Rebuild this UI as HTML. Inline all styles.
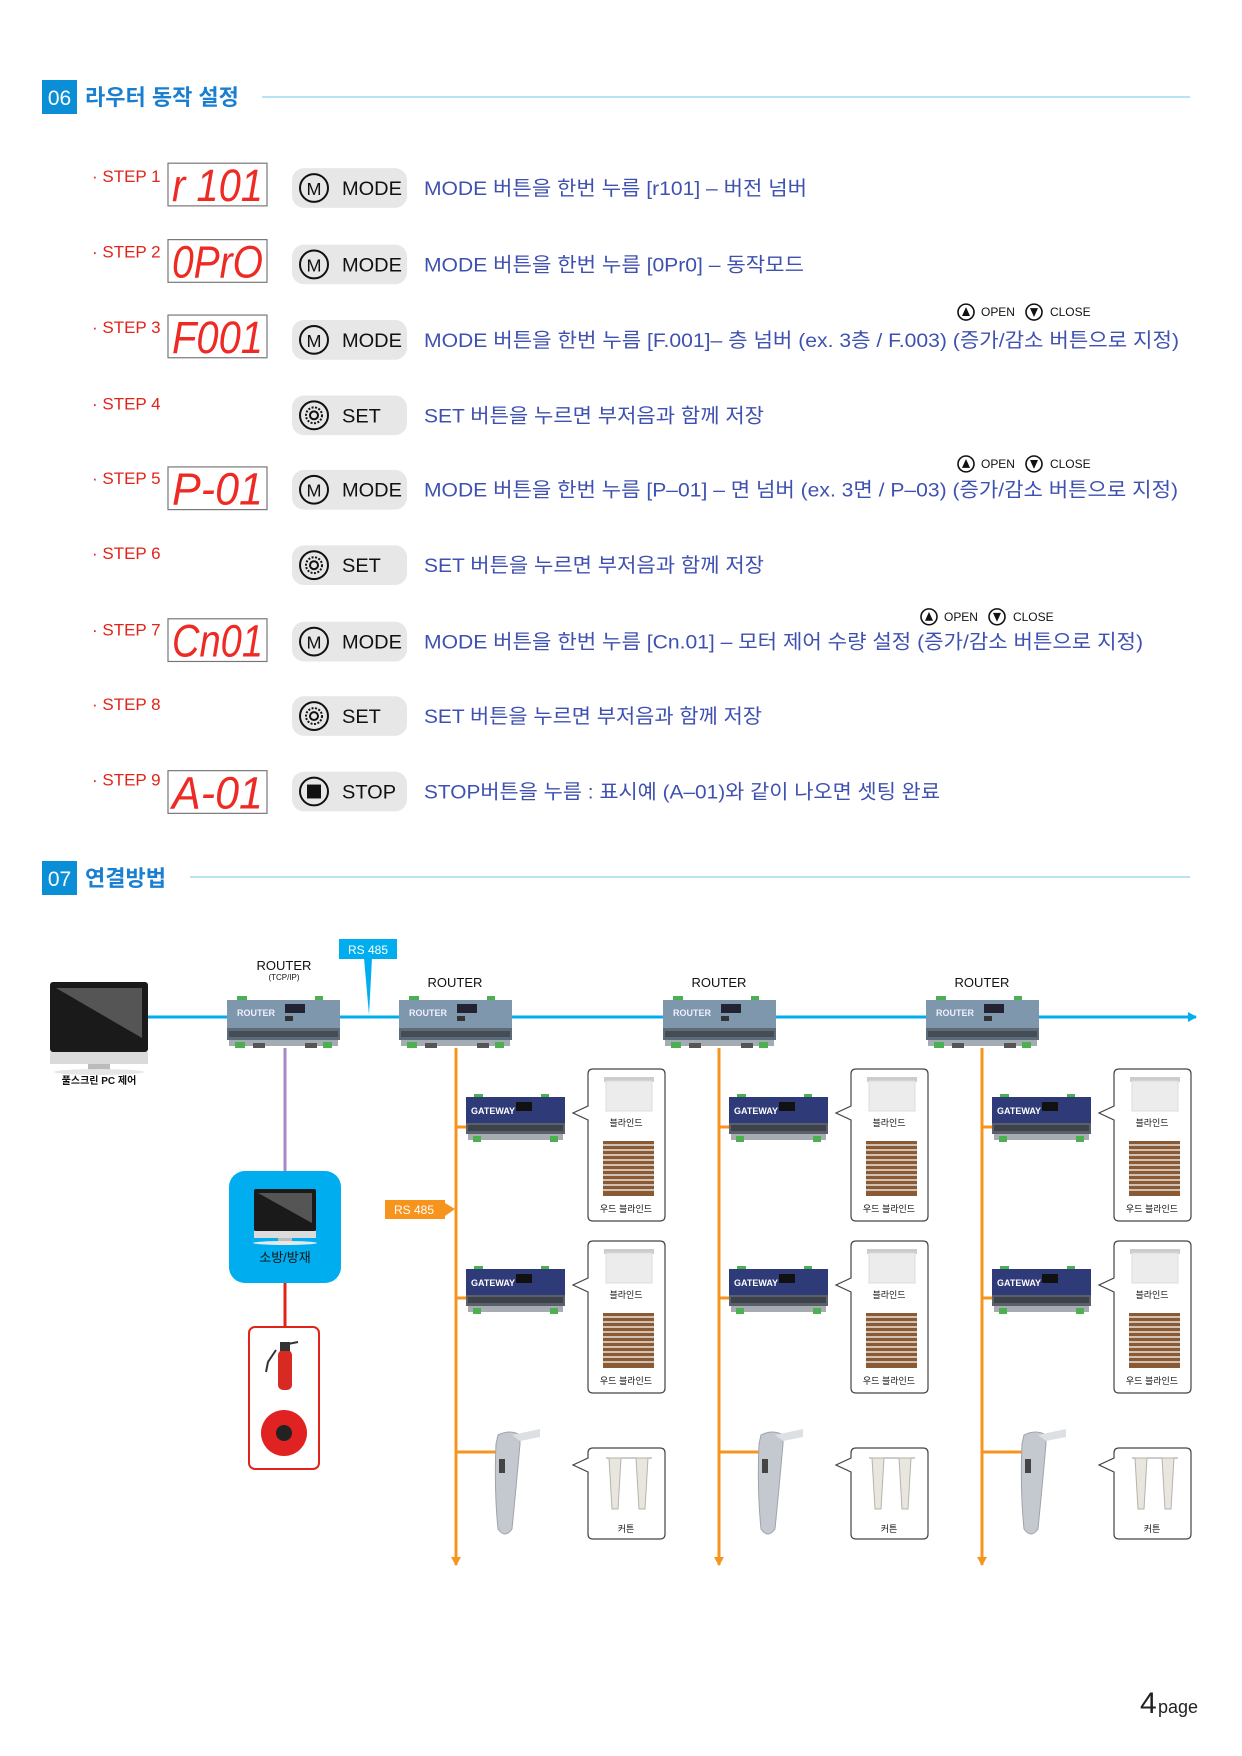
<!DOCTYPE html>
<html><head><meta charset="utf-8">
<style>
html,body{margin:0;padding:0;background:#fff;}
svg{display:block;}
text{font-family:"Liberation Sans","Noto Sans CJK KR",sans-serif;}
</style></head><body>
<svg width="1242" height="1756" viewBox="0 0 1242 1756" xmlns="http://www.w3.org/2000/svg">
<defs>
<marker id="ab" markerWidth="10" markerHeight="10" refX="8" refY="5" orient="auto" markerUnits="userSpaceOnUse"><path d="M0,0 L9,5 L0,10 Z" fill="#00aeef"/></marker>
<marker id="ao" markerWidth="10" markerHeight="10" refX="8" refY="5" orient="auto" markerUnits="userSpaceOnUse"><path d="M0,0 L9,5 L0,10 Z" fill="#f7941d"/></marker>
</defs>

<!-- Section 06 header -->
<rect x="42" y="80" width="35" height="34" fill="#0a8fd6"/>
<text x="59.5" y="105" font-size="21" fill="#fff" text-anchor="middle">06</text>
<text x="85" y="105" font-size="22" fill="#1a7fd0" font-weight="bold">라우터 동작 설정</text>
<line x1="262" y1="97" x2="1190" y2="97" stroke="#9fdaf0" stroke-width="1.5"/>

<g transform="translate(0,1.4) scale(1,0.9926)">
<!-- Steps -->
<g font-size="17" fill="#e2231a">
<text x="92" y="182">· STEP 1</text>
<text x="92" y="258">· STEP 2</text>
<text x="92" y="334">· STEP 3</text>
<text x="92" y="411">· STEP 4</text>
<text x="92" y="486">· STEP 5</text>
<text x="92" y="562">· STEP 6</text>
<text x="92" y="639">· STEP 7</text>
<text x="92" y="714">· STEP 8</text>
<text x="92" y="790">· STEP 9</text>
</g>

<g fill="#fff" stroke="#777" stroke-width="1.2">
<rect x="168" y="163" width="99" height="43"/>
<rect x="168" y="240" width="99" height="43"/>
<rect x="168" y="316" width="99" height="43"/>
<rect x="168" y="469" width="99" height="43"/>
<rect x="168" y="622" width="99" height="43"/>
<rect x="168" y="775" width="99" height="43"/>
</g>
<g font-family="Liberation Mono" font-style="italic" font-size="46" fill="#ee2a24">
<text x="172" y="201" textLength="91" lengthAdjust="spacingAndGlyphs">r 101</text>
<text x="172" y="278" textLength="91" lengthAdjust="spacingAndGlyphs">0PrO</text>
<text x="172" y="354" textLength="91" lengthAdjust="spacingAndGlyphs">F001</text>
<text x="172" y="507" textLength="91" lengthAdjust="spacingAndGlyphs">P-01</text>
<text x="172" y="660" textLength="91" lengthAdjust="spacingAndGlyphs">Cn01</text>
<text x="172" y="813" textLength="91" lengthAdjust="spacingAndGlyphs">A-01</text>
</g>

<g fill="#e7e7e8">
<rect x="292" y="168" width="115" height="40" rx="12"/>
<rect x="292" y="245" width="115" height="40" rx="12"/>
<rect x="292" y="321" width="115" height="40" rx="12"/>
<rect x="292" y="397" width="115" height="40" rx="12"/>
<rect x="292" y="472" width="115" height="40" rx="12"/>
<rect x="292" y="548" width="115" height="40" rx="12"/>
<rect x="292" y="625" width="115" height="40" rx="12"/>
<rect x="292" y="700" width="115" height="40" rx="12"/>
<rect x="292" y="776" width="115" height="40" rx="12"/>
</g>
<g fill="none" stroke="#111" stroke-width="2">
<circle cx="314" cy="188" r="14"/><circle cx="314" cy="265" r="14"/><circle cx="314" cy="341" r="14"/>
<circle cx="314" cy="417" r="14"/><circle cx="314" cy="492" r="14"/><circle cx="314" cy="568" r="14"/>
<circle cx="314" cy="645" r="14"/><circle cx="314" cy="720" r="14"/><circle cx="314" cy="796" r="14"/>
<circle cx="314" cy="417" r="8" stroke-dasharray="2 1.5"/><circle cx="314" cy="568" r="8" stroke-dasharray="2 1.5"/><circle cx="314" cy="720" r="8" stroke-dasharray="2 1.5"/>
<circle cx="314" cy="417" r="4"/><circle cx="314" cy="568" r="4"/><circle cx="314" cy="720" r="4"/>
</g>
<rect x="307" y="789" width="14" height="14" fill="#111"/>
<g font-size="18" fill="#111" text-anchor="middle">
<text x="314" y="195">M</text><text x="314" y="272">M</text><text x="314" y="348">M</text>
<text x="314" y="499">M</text><text x="314" y="652">M</text>
</g>
<g font-size="20" fill="#111">
<text x="342" y="195">MODE</text><text x="342" y="272">MODE</text><text x="342" y="348">MODE</text>
<text x="342" y="424">SET</text><text x="342" y="499">MODE</text><text x="342" y="575">SET</text>
<text x="342" y="652">MODE</text><text x="342" y="727">SET</text><text x="342" y="803">STOP</text>
</g>

<g font-size="20" fill="#3f51b0">
<text x="424" y="195" textLength="383" lengthAdjust="spacingAndGlyphs">MODE 버튼을 한번 누름 [r101] – 버전 넘버</text>
<text x="424" y="272" textLength="380" lengthAdjust="spacingAndGlyphs">MODE 버튼을 한번 누름 [0Pr0] – 동작모드</text>
<text x="424" y="348" textLength="755" lengthAdjust="spacingAndGlyphs">MODE 버튼을 한번 누름 [F.001]– 층 넘버 (ex. 3층 / F.003) (증가/감소 버튼으로 지정)</text>
<text x="424" y="424" textLength="340" lengthAdjust="spacingAndGlyphs">SET 버튼을 누르면 부저음과 함께 저장</text>
<text x="424" y="499" textLength="754" lengthAdjust="spacingAndGlyphs">MODE 버튼을 한번 누름 [P–01] – 면 넘버 (ex. 3면 / P–03) (증가/감소 버튼으로 지정)</text>
<text x="424" y="575" textLength="340" lengthAdjust="spacingAndGlyphs">SET 버튼을 누르면 부저음과 함께 저장</text>
<text x="424" y="652" textLength="719" lengthAdjust="spacingAndGlyphs">MODE 버튼을 한번 누름 [Cn.01] – 모터 제어 수량 설정 (증가/감소 버튼으로 지정)</text>
<text x="424" y="727" textLength="338" lengthAdjust="spacingAndGlyphs">SET 버튼을 누르면 부저음과 함께 저장</text>
<text x="424" y="803" textLength="516" lengthAdjust="spacingAndGlyphs">STOP버튼을 누름 : 표시예 (A–01)와 같이 나오면 셋팅 완료</text>
</g>

<g font-size="12" fill="#111">
<g>
<circle cx="966" cy="313" r="8" fill="none" stroke="#111" stroke-width="1.6"/><path d="M962,317 L970,317 L966,308 Z"/>
<text x="981" y="317">OPEN</text>
<circle cx="1034" cy="313" r="8" fill="none" stroke="#111" stroke-width="1.6"/><path d="M1030,309 L1038,309 L1034,318 Z"/>
<text x="1050" y="317">CLOSE</text>
</g>
<g transform="translate(0,153)">
<circle cx="966" cy="313" r="8" fill="none" stroke="#111" stroke-width="1.6"/><path d="M962,317 L970,317 L966,308 Z"/>
<text x="981" y="317">OPEN</text>
<circle cx="1034" cy="313" r="8" fill="none" stroke="#111" stroke-width="1.6"/><path d="M1030,309 L1038,309 L1034,318 Z"/>
<text x="1050" y="317">CLOSE</text>
</g>
<g transform="translate(-37,307)">
<circle cx="966" cy="313" r="8" fill="none" stroke="#111" stroke-width="1.6"/><path d="M962,317 L970,317 L966,308 Z"/>
<text x="981" y="317">OPEN</text>
<circle cx="1034" cy="313" r="8" fill="none" stroke="#111" stroke-width="1.6"/><path d="M1030,309 L1038,309 L1034,318 Z"/>
<text x="1050" y="317">CLOSE</text>
</g>
</g>
</g>

<!-- Section 07 header -->
<rect x="42" y="861" width="35" height="34" fill="#0a8fd6"/>
<text x="59.5" y="886" font-size="21" fill="#fff" text-anchor="middle">07</text>
<text x="85" y="886" font-size="22" fill="#1a7fd0" font-weight="bold">연결방법</text>
<line x1="190" y1="877" x2="1190" y2="877" stroke="#9fdaf0" stroke-width="1.5"/>

<!-- ===== Diagram ===== -->
<line x1="148" y1="1017" x2="1196" y2="1017" stroke="#00aeef" stroke-width="3" marker-end="url(#ab)"/>
<line x1="285" y1="1048" x2="285" y2="1171" stroke="#a886c8" stroke-width="3"/>
<line x1="285" y1="1283" x2="285" y2="1327" stroke="#e2231a" stroke-width="3"/>
<g stroke="#f7941d" stroke-width="3">
<line x1="456" y1="1048" x2="456" y2="1565" marker-end="url(#ao)"/>
<line x1="719" y1="1048" x2="719" y2="1565" marker-end="url(#ao)"/>
<line x1="982" y1="1048" x2="982" y2="1565" marker-end="url(#ao)"/>
<line x1="456" y1="1127" x2="470" y2="1127"/><line x1="456" y1="1298" x2="470" y2="1298"/><line x1="456" y1="1452" x2="500" y2="1452"/>
<line x1="719" y1="1127" x2="733" y2="1127"/><line x1="719" y1="1298" x2="733" y2="1298"/><line x1="719" y1="1452" x2="763" y2="1452"/>
<line x1="982" y1="1127" x2="996" y2="1127"/><line x1="982" y1="1298" x2="996" y2="1298"/><line x1="982" y1="1452" x2="1026" y2="1452"/>
</g>

<!-- PC -->
<rect x="50" y="982" width="98" height="70" rx="3" fill="#1a1a1a"/>
<path d="M56,988 L142,988 L142,1038 Z" fill="#555"/>
<rect x="50" y="1052" width="98" height="12" fill="#dadada"/>
<rect x="88" y="1064" width="22" height="7" fill="#bbb"/>
<ellipse cx="99" cy="1072" rx="45" ry="3" fill="#e6e6e6"/>
<text x="99" y="1084" font-size="10" fill="#111" text-anchor="middle" font-weight="bold">풀스크린 PC 제어</text>

<!-- RS485 blue callout -->
<path d="M364,958 L372,958 L369,1015 Z" fill="#00aeef"/>
<rect x="339" y="939" width="58" height="20" fill="#00aeef"/>
<text x="368" y="954" font-size="12" fill="#fff" text-anchor="middle">RS 485</text>

<g font-size="13" fill="#111" text-anchor="middle">
<text x="284" y="970">ROUTER</text>
<text x="455" y="987">ROUTER</text>
<text x="719" y="987">ROUTER</text>
<text x="982" y="987">ROUTER</text>
</g>
<text x="284" y="980" font-size="8" fill="#111" text-anchor="middle">(TCP/IP)</text>

<!-- Routers -->
<g transform="translate(227,996)">
<rect x="10" y="0" width="10" height="5" fill="#4caf50"/><rect x="88" y="0" width="8" height="5" fill="#4caf50"/>
<rect x="0" y="4" width="113" height="28" fill="#7f97ad"/>
<rect x="58" y="8" width="20" height="9" fill="#223"/><rect x="58" y="20" width="8" height="5" fill="#333"/>
<text x="10" y="20" font-size="9" fill="#eef" font-weight="bold">ROUTER</text>
<rect x="0" y="32" width="113" height="12" fill="#5d6b78"/><rect x="2" y="35" width="109" height="6" fill="#444c55"/>
<rect x="2" y="44" width="109" height="6" fill="#a3abb3"/>
<rect x="8" y="46" width="10" height="6" fill="#4caf50"/><rect x="96" y="46" width="9" height="6" fill="#4caf50"/>
<rect x="26" y="47" width="12" height="5" fill="#555"/><rect x="78" y="47" width="12" height="5" fill="#555"/>
</g>
<g transform="translate(399,996)">
<rect x="10" y="0" width="10" height="5" fill="#4caf50"/><rect x="88" y="0" width="8" height="5" fill="#4caf50"/>
<rect x="0" y="4" width="113" height="28" fill="#7f97ad"/>
<rect x="58" y="8" width="20" height="9" fill="#223"/><rect x="58" y="20" width="8" height="5" fill="#333"/>
<text x="10" y="20" font-size="9" fill="#eef" font-weight="bold">ROUTER</text>
<rect x="0" y="32" width="113" height="12" fill="#5d6b78"/><rect x="2" y="35" width="109" height="6" fill="#444c55"/>
<rect x="2" y="44" width="109" height="6" fill="#a3abb3"/>
<rect x="8" y="46" width="10" height="6" fill="#4caf50"/><rect x="96" y="46" width="9" height="6" fill="#4caf50"/>
<rect x="26" y="47" width="12" height="5" fill="#555"/><rect x="78" y="47" width="12" height="5" fill="#555"/>
</g>
<g transform="translate(663,996)">
<rect x="10" y="0" width="10" height="5" fill="#4caf50"/><rect x="88" y="0" width="8" height="5" fill="#4caf50"/>
<rect x="0" y="4" width="113" height="28" fill="#7f97ad"/>
<rect x="58" y="8" width="20" height="9" fill="#223"/><rect x="58" y="20" width="8" height="5" fill="#333"/>
<text x="10" y="20" font-size="9" fill="#eef" font-weight="bold">ROUTER</text>
<rect x="0" y="32" width="113" height="12" fill="#5d6b78"/><rect x="2" y="35" width="109" height="6" fill="#444c55"/>
<rect x="2" y="44" width="109" height="6" fill="#a3abb3"/>
<rect x="8" y="46" width="10" height="6" fill="#4caf50"/><rect x="96" y="46" width="9" height="6" fill="#4caf50"/>
<rect x="26" y="47" width="12" height="5" fill="#555"/><rect x="78" y="47" width="12" height="5" fill="#555"/>
</g>
<g transform="translate(926,996)">
<rect x="10" y="0" width="10" height="5" fill="#4caf50"/><rect x="88" y="0" width="8" height="5" fill="#4caf50"/>
<rect x="0" y="4" width="113" height="28" fill="#7f97ad"/>
<rect x="58" y="8" width="20" height="9" fill="#223"/><rect x="58" y="20" width="8" height="5" fill="#333"/>
<text x="10" y="20" font-size="9" fill="#eef" font-weight="bold">ROUTER</text>
<rect x="0" y="32" width="113" height="12" fill="#5d6b78"/><rect x="2" y="35" width="109" height="6" fill="#444c55"/>
<rect x="2" y="44" width="109" height="6" fill="#a3abb3"/>
<rect x="8" y="46" width="10" height="6" fill="#4caf50"/><rect x="96" y="46" width="9" height="6" fill="#4caf50"/>
<rect x="26" y="47" width="12" height="5" fill="#555"/><rect x="78" y="47" width="12" height="5" fill="#555"/>
</g>

<!-- Fire control box -->
<rect x="229" y="1171" width="112" height="112" rx="16" fill="#00aeef"/>
<rect x="254" y="1189" width="62" height="42" rx="2" fill="#1a1a1a"/>
<path d="M258,1193 L312,1193 L312,1223 Z" fill="#555"/>
<rect x="254" y="1231" width="62" height="7" fill="#dcdcdc"/>
<rect x="278" y="1238" width="14" height="4" fill="#bbb"/>
<ellipse cx="285" cy="1243" rx="32" ry="2" fill="#e8e8e8"/>
<text x="285" y="1262" font-size="13" fill="#111" text-anchor="middle">소방/방재</text>

<rect x="249" y="1327" width="70" height="142" rx="6" fill="#fff" stroke="#e2231a" stroke-width="2"/>
<rect x="278" y="1350" width="14" height="40" rx="5" fill="#d62a22"/>
<rect x="280" y="1342" width="10" height="9" fill="#333"/>
<path d="M288,1344 L298,1342 M276,1350 L268,1362 L266,1372" stroke="#333" stroke-width="2" fill="none"/>
<circle cx="284" cy="1433" r="23" fill="#e02222"/>
<circle cx="284" cy="1433" r="8" fill="#222"/>

<!-- RS485 orange label -->
<rect x="385" y="1200" width="60" height="19" fill="#f7941d"/>
<path d="M445,1203 L455,1209 L445,1216 Z" fill="#f7941d"/>
<text x="414" y="1214" font-size="12" fill="#fff" text-anchor="middle">RS 485</text>

<!-- Gateways -->
<g>
<g transform="translate(466,1094)">
<rect x="8" y="0" width="9" height="4" fill="#4caf50"/><rect x="75" y="0" width="8" height="4" fill="#4caf50"/>
<rect x="0" y="3" width="99" height="26" fill="#2e3b78"/>
<text x="5" y="20" font-size="9" fill="#fff" font-weight="bold">GATEWAY</text>
<rect x="50" y="8" width="16" height="9" fill="#111"/>
<rect x="0" y="29" width="99" height="11" fill="#5a5f6a"/><rect x="2" y="31" width="95" height="6" fill="#3d424b"/>
<rect x="2" y="40" width="95" height="6" fill="#a7acb3"/>
<rect x="7" y="42" width="8" height="6" fill="#4caf50"/><rect x="84" y="42" width="8" height="6" fill="#4caf50"/>
</g>
<g transform="translate(466,1266)">
<rect x="8" y="0" width="9" height="4" fill="#4caf50"/><rect x="75" y="0" width="8" height="4" fill="#4caf50"/>
<rect x="0" y="3" width="99" height="26" fill="#2e3b78"/>
<text x="5" y="20" font-size="9" fill="#fff" font-weight="bold">GATEWAY</text>
<rect x="50" y="8" width="16" height="9" fill="#111"/>
<rect x="0" y="29" width="99" height="11" fill="#5a5f6a"/><rect x="2" y="31" width="95" height="6" fill="#3d424b"/>
<rect x="2" y="40" width="95" height="6" fill="#a7acb3"/>
<rect x="7" y="42" width="8" height="6" fill="#4caf50"/><rect x="84" y="42" width="8" height="6" fill="#4caf50"/>
</g>
</g>
<g transform="translate(263,0)">
<g transform="translate(466,1094)">
<rect x="8" y="0" width="9" height="4" fill="#4caf50"/><rect x="75" y="0" width="8" height="4" fill="#4caf50"/>
<rect x="0" y="3" width="99" height="26" fill="#2e3b78"/>
<text x="5" y="20" font-size="9" fill="#fff" font-weight="bold">GATEWAY</text>
<rect x="50" y="8" width="16" height="9" fill="#111"/>
<rect x="0" y="29" width="99" height="11" fill="#5a5f6a"/><rect x="2" y="31" width="95" height="6" fill="#3d424b"/>
<rect x="2" y="40" width="95" height="6" fill="#a7acb3"/>
<rect x="7" y="42" width="8" height="6" fill="#4caf50"/><rect x="84" y="42" width="8" height="6" fill="#4caf50"/>
</g>
<g transform="translate(466,1266)">
<rect x="8" y="0" width="9" height="4" fill="#4caf50"/><rect x="75" y="0" width="8" height="4" fill="#4caf50"/>
<rect x="0" y="3" width="99" height="26" fill="#2e3b78"/>
<text x="5" y="20" font-size="9" fill="#fff" font-weight="bold">GATEWAY</text>
<rect x="50" y="8" width="16" height="9" fill="#111"/>
<rect x="0" y="29" width="99" height="11" fill="#5a5f6a"/><rect x="2" y="31" width="95" height="6" fill="#3d424b"/>
<rect x="2" y="40" width="95" height="6" fill="#a7acb3"/>
<rect x="7" y="42" width="8" height="6" fill="#4caf50"/><rect x="84" y="42" width="8" height="6" fill="#4caf50"/>
</g>
</g>
<g transform="translate(526,0)">
<g transform="translate(466,1094)">
<rect x="8" y="0" width="9" height="4" fill="#4caf50"/><rect x="75" y="0" width="8" height="4" fill="#4caf50"/>
<rect x="0" y="3" width="99" height="26" fill="#2e3b78"/>
<text x="5" y="20" font-size="9" fill="#fff" font-weight="bold">GATEWAY</text>
<rect x="50" y="8" width="16" height="9" fill="#111"/>
<rect x="0" y="29" width="99" height="11" fill="#5a5f6a"/><rect x="2" y="31" width="95" height="6" fill="#3d424b"/>
<rect x="2" y="40" width="95" height="6" fill="#a7acb3"/>
<rect x="7" y="42" width="8" height="6" fill="#4caf50"/><rect x="84" y="42" width="8" height="6" fill="#4caf50"/>
</g>
<g transform="translate(466,1266)">
<rect x="8" y="0" width="9" height="4" fill="#4caf50"/><rect x="75" y="0" width="8" height="4" fill="#4caf50"/>
<rect x="0" y="3" width="99" height="26" fill="#2e3b78"/>
<text x="5" y="20" font-size="9" fill="#fff" font-weight="bold">GATEWAY</text>
<rect x="50" y="8" width="16" height="9" fill="#111"/>
<rect x="0" y="29" width="99" height="11" fill="#5a5f6a"/><rect x="2" y="31" width="95" height="6" fill="#3d424b"/>
<rect x="2" y="40" width="95" height="6" fill="#a7acb3"/>
<rect x="7" y="42" width="8" height="6" fill="#4caf50"/><rect x="84" y="42" width="8" height="6" fill="#4caf50"/>
</g>
</g>

<!-- Blind callouts -->
<g transform="translate(0,0)">
<path d="M598,1069 L660,1069 Q665,1069 665,1074 L665,1216 Q665,1221 660,1221 L593,1221 Q588,1221 588,1216 L588,1120 L573,1113 L588,1106 L588,1074 Q588,1069 593,1069 Z" fill="#fff" stroke="#444" stroke-width="1.2"/>
<rect x="604" y="1077" width="50" height="5" fill="#ccc"/>
<rect x="606" y="1081" width="46" height="30" fill="#ececec" stroke="#ddd"/>
<text x="626" y="1126" font-size="9" fill="#111" text-anchor="middle">블라인드</text>
<rect x="603" y="1141" width="51" height="55" fill="#8a5a35"/>
<g stroke="#fff" stroke-width="1.3">
<line x1="603" y1="1145" x2="654" y2="1145"/><line x1="603" y1="1150" x2="654" y2="1150"/><line x1="603" y1="1155" x2="654" y2="1155"/><line x1="603" y1="1160" x2="654" y2="1160"/><line x1="603" y1="1165" x2="654" y2="1165"/><line x1="603" y1="1170" x2="654" y2="1170"/><line x1="603" y1="1175" x2="654" y2="1175"/><line x1="603" y1="1180" x2="654" y2="1180"/><line x1="603" y1="1185" x2="654" y2="1185"/><line x1="603" y1="1190" x2="654" y2="1190"/>
</g>
<text x="626" y="1212" font-size="9" fill="#111" text-anchor="middle">우드 블라인드</text>
</g>
<g transform="translate(0,172)">
<path d="M598,1069 L660,1069 Q665,1069 665,1074 L665,1216 Q665,1221 660,1221 L593,1221 Q588,1221 588,1216 L588,1120 L573,1113 L588,1106 L588,1074 Q588,1069 593,1069 Z" fill="#fff" stroke="#444" stroke-width="1.2"/>
<rect x="604" y="1077" width="50" height="5" fill="#ccc"/>
<rect x="606" y="1081" width="46" height="30" fill="#ececec" stroke="#ddd"/>
<text x="626" y="1126" font-size="9" fill="#111" text-anchor="middle">블라인드</text>
<rect x="603" y="1141" width="51" height="55" fill="#8a5a35"/>
<g stroke="#fff" stroke-width="1.3">
<line x1="603" y1="1145" x2="654" y2="1145"/><line x1="603" y1="1150" x2="654" y2="1150"/><line x1="603" y1="1155" x2="654" y2="1155"/><line x1="603" y1="1160" x2="654" y2="1160"/><line x1="603" y1="1165" x2="654" y2="1165"/><line x1="603" y1="1170" x2="654" y2="1170"/><line x1="603" y1="1175" x2="654" y2="1175"/><line x1="603" y1="1180" x2="654" y2="1180"/><line x1="603" y1="1185" x2="654" y2="1185"/><line x1="603" y1="1190" x2="654" y2="1190"/>
</g>
<text x="626" y="1212" font-size="9" fill="#111" text-anchor="middle">우드 블라인드</text>
</g>
<g transform="translate(263,0)">
<path d="M598,1069 L660,1069 Q665,1069 665,1074 L665,1216 Q665,1221 660,1221 L593,1221 Q588,1221 588,1216 L588,1120 L573,1113 L588,1106 L588,1074 Q588,1069 593,1069 Z" fill="#fff" stroke="#444" stroke-width="1.2"/>
<rect x="604" y="1077" width="50" height="5" fill="#ccc"/>
<rect x="606" y="1081" width="46" height="30" fill="#ececec" stroke="#ddd"/>
<text x="626" y="1126" font-size="9" fill="#111" text-anchor="middle">블라인드</text>
<rect x="603" y="1141" width="51" height="55" fill="#8a5a35"/>
<g stroke="#fff" stroke-width="1.3">
<line x1="603" y1="1145" x2="654" y2="1145"/><line x1="603" y1="1150" x2="654" y2="1150"/><line x1="603" y1="1155" x2="654" y2="1155"/><line x1="603" y1="1160" x2="654" y2="1160"/><line x1="603" y1="1165" x2="654" y2="1165"/><line x1="603" y1="1170" x2="654" y2="1170"/><line x1="603" y1="1175" x2="654" y2="1175"/><line x1="603" y1="1180" x2="654" y2="1180"/><line x1="603" y1="1185" x2="654" y2="1185"/><line x1="603" y1="1190" x2="654" y2="1190"/>
</g>
<text x="626" y="1212" font-size="9" fill="#111" text-anchor="middle">우드 블라인드</text>
</g>
<g transform="translate(263,172)">
<path d="M598,1069 L660,1069 Q665,1069 665,1074 L665,1216 Q665,1221 660,1221 L593,1221 Q588,1221 588,1216 L588,1120 L573,1113 L588,1106 L588,1074 Q588,1069 593,1069 Z" fill="#fff" stroke="#444" stroke-width="1.2"/>
<rect x="604" y="1077" width="50" height="5" fill="#ccc"/>
<rect x="606" y="1081" width="46" height="30" fill="#ececec" stroke="#ddd"/>
<text x="626" y="1126" font-size="9" fill="#111" text-anchor="middle">블라인드</text>
<rect x="603" y="1141" width="51" height="55" fill="#8a5a35"/>
<g stroke="#fff" stroke-width="1.3">
<line x1="603" y1="1145" x2="654" y2="1145"/><line x1="603" y1="1150" x2="654" y2="1150"/><line x1="603" y1="1155" x2="654" y2="1155"/><line x1="603" y1="1160" x2="654" y2="1160"/><line x1="603" y1="1165" x2="654" y2="1165"/><line x1="603" y1="1170" x2="654" y2="1170"/><line x1="603" y1="1175" x2="654" y2="1175"/><line x1="603" y1="1180" x2="654" y2="1180"/><line x1="603" y1="1185" x2="654" y2="1185"/><line x1="603" y1="1190" x2="654" y2="1190"/>
</g>
<text x="626" y="1212" font-size="9" fill="#111" text-anchor="middle">우드 블라인드</text>
</g>
<g transform="translate(526,0)">
<path d="M598,1069 L660,1069 Q665,1069 665,1074 L665,1216 Q665,1221 660,1221 L593,1221 Q588,1221 588,1216 L588,1120 L573,1113 L588,1106 L588,1074 Q588,1069 593,1069 Z" fill="#fff" stroke="#444" stroke-width="1.2"/>
<rect x="604" y="1077" width="50" height="5" fill="#ccc"/>
<rect x="606" y="1081" width="46" height="30" fill="#ececec" stroke="#ddd"/>
<text x="626" y="1126" font-size="9" fill="#111" text-anchor="middle">블라인드</text>
<rect x="603" y="1141" width="51" height="55" fill="#8a5a35"/>
<g stroke="#fff" stroke-width="1.3">
<line x1="603" y1="1145" x2="654" y2="1145"/><line x1="603" y1="1150" x2="654" y2="1150"/><line x1="603" y1="1155" x2="654" y2="1155"/><line x1="603" y1="1160" x2="654" y2="1160"/><line x1="603" y1="1165" x2="654" y2="1165"/><line x1="603" y1="1170" x2="654" y2="1170"/><line x1="603" y1="1175" x2="654" y2="1175"/><line x1="603" y1="1180" x2="654" y2="1180"/><line x1="603" y1="1185" x2="654" y2="1185"/><line x1="603" y1="1190" x2="654" y2="1190"/>
</g>
<text x="626" y="1212" font-size="9" fill="#111" text-anchor="middle">우드 블라인드</text>
</g>
<g transform="translate(526,172)">
<path d="M598,1069 L660,1069 Q665,1069 665,1074 L665,1216 Q665,1221 660,1221 L593,1221 Q588,1221 588,1216 L588,1120 L573,1113 L588,1106 L588,1074 Q588,1069 593,1069 Z" fill="#fff" stroke="#444" stroke-width="1.2"/>
<rect x="604" y="1077" width="50" height="5" fill="#ccc"/>
<rect x="606" y="1081" width="46" height="30" fill="#ececec" stroke="#ddd"/>
<text x="626" y="1126" font-size="9" fill="#111" text-anchor="middle">블라인드</text>
<rect x="603" y="1141" width="51" height="55" fill="#8a5a35"/>
<g stroke="#fff" stroke-width="1.3">
<line x1="603" y1="1145" x2="654" y2="1145"/><line x1="603" y1="1150" x2="654" y2="1150"/><line x1="603" y1="1155" x2="654" y2="1155"/><line x1="603" y1="1160" x2="654" y2="1160"/><line x1="603" y1="1165" x2="654" y2="1165"/><line x1="603" y1="1170" x2="654" y2="1170"/><line x1="603" y1="1175" x2="654" y2="1175"/><line x1="603" y1="1180" x2="654" y2="1180"/><line x1="603" y1="1185" x2="654" y2="1185"/><line x1="603" y1="1190" x2="654" y2="1190"/>
</g>
<text x="626" y="1212" font-size="9" fill="#111" text-anchor="middle">우드 블라인드</text>
</g>

<!-- Curtain motors + curtain callouts -->
<g transform="translate(0,-11)">
<g>
<path d="M498,1446 Q510,1440 520,1446 L520,1455 Q516,1500 512,1540 Q505,1550 498,1540 Q494,1500 496,1455 Z" fill="#c4c8cf" stroke="#a0a4aa"/>
<path d="M512,1446 L540,1440 L540,1448 L520,1452 Z" fill="#dcdfe3"/>
<rect x="499" y="1470" width="6" height="14" fill="#444"/>
<path d="M598,1459 L660,1459 Q665,1459 665,1464 L665,1545 Q665,1550 660,1550 L593,1550 Q588,1550 588,1545 L588,1483 L573,1476 L588,1469 L588,1464 Q588,1459 593,1459 Z" fill="#fff" stroke="#444" stroke-width="1.2"/>
<line x1="606" y1="1469" x2="652" y2="1469" stroke="#999"/>
<path d="M609,1469 L621,1469 L618,1520 L612,1520 Z M636,1469 L648,1469 L645,1520 L639,1520 Z" fill="#e8e6df" stroke="#b5b3aa"/>
<text x="626" y="1543" font-size="9" fill="#111" text-anchor="middle">커튼</text>
</g>
<g transform="translate(263,0)">
<path d="M498,1446 Q510,1440 520,1446 L520,1455 Q516,1500 512,1540 Q505,1550 498,1540 Q494,1500 496,1455 Z" fill="#c4c8cf" stroke="#a0a4aa"/>
<path d="M512,1446 L540,1440 L540,1448 L520,1452 Z" fill="#dcdfe3"/>
<rect x="499" y="1470" width="6" height="14" fill="#444"/>
<path d="M598,1459 L660,1459 Q665,1459 665,1464 L665,1545 Q665,1550 660,1550 L593,1550 Q588,1550 588,1545 L588,1483 L573,1476 L588,1469 L588,1464 Q588,1459 593,1459 Z" fill="#fff" stroke="#444" stroke-width="1.2"/>
<line x1="606" y1="1469" x2="652" y2="1469" stroke="#999"/>
<path d="M609,1469 L621,1469 L618,1520 L612,1520 Z M636,1469 L648,1469 L645,1520 L639,1520 Z" fill="#e8e6df" stroke="#b5b3aa"/>
<text x="626" y="1543" font-size="9" fill="#111" text-anchor="middle">커튼</text>
</g>
<g transform="translate(526,0)">
<path d="M498,1446 Q510,1440 520,1446 L520,1455 Q516,1500 512,1540 Q505,1550 498,1540 Q494,1500 496,1455 Z" fill="#c4c8cf" stroke="#a0a4aa"/>
<path d="M512,1446 L540,1440 L540,1448 L520,1452 Z" fill="#dcdfe3"/>
<rect x="499" y="1470" width="6" height="14" fill="#444"/>
<path d="M598,1459 L660,1459 Q665,1459 665,1464 L665,1545 Q665,1550 660,1550 L593,1550 Q588,1550 588,1545 L588,1483 L573,1476 L588,1469 L588,1464 Q588,1459 593,1459 Z" fill="#fff" stroke="#444" stroke-width="1.2"/>
<line x1="606" y1="1469" x2="652" y2="1469" stroke="#999"/>
<path d="M609,1469 L621,1469 L618,1520 L612,1520 Z M636,1469 L648,1469 L645,1520 L639,1520 Z" fill="#e8e6df" stroke="#b5b3aa"/>
<text x="626" y="1543" font-size="9" fill="#111" text-anchor="middle">커튼</text>
</g>
</g>

<text x="1140" y="1713" font-size="30" fill="#222">4</text>
<text x="1158" y="1713" font-size="18" fill="#222">page</text>
</svg>
</body></html>
